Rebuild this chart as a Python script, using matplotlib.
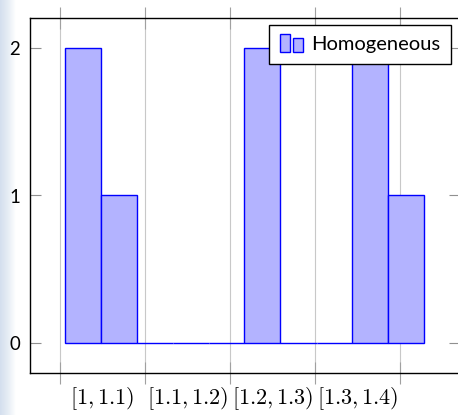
import numpy as np
import matplotlib
matplotlib.use("Agg")
import matplotlib.pyplot as plt
from matplotlib.patches import Rectangle
from matplotlib.legend_handler import HandlerBase

# histogram bins (edges) and counts
bin_edges = [1.006, 1.048, 1.090, 1.133, 1.175, 1.217, 1.259, 1.302, 1.344, 1.386, 1.428]
counts = [2, 1, 0, 0, 0, 2, 0, 0, 2, 1]
grid_ticks = [1.0, 1.1, 1.2, 1.3, 1.4]
label_pos = [1.05, 1.15, 1.25, 1.35]
interval_labels = [r"$[1, 1.1)$", r"$[1.1, 1.2)$", r"$[1.2, 1.3)$", r"$[1.3, 1.4)$"]
y_ticks = [0, 1, 2]
series_name = "Homogeneous"

plt.rcParams["font.family"] = ["Lato", "DejaVu Sans"]
plt.rcParams["mathtext.fontset"] = "cm"

fill_c = "#b3b3ff"
edge_c = "#0000ff"


class TwoBarHandler(HandlerBase):
    def create_artists(self, legend, orig_handle, xdescent, ydescent,
                       width, height, fontsize, trans):
        w = width * 0.42
        r1 = Rectangle((-xdescent, -ydescent - height * 0.15), w, height * 1.3,
                       facecolor=fill_c, edgecolor=edge_c, lw=1, transform=trans)
        r2 = Rectangle((-xdescent + width * 0.58, -ydescent - height * 0.15), w, height * 1.0,
                       facecolor=fill_c, edgecolor=edge_c, lw=1, transform=trans)
        return [r1, r2]


W, H = 458, 415
fig = plt.figure(figsize=(W / 100, H / 100), dpi=100)

# faint slide background strip at the left edge
bg = fig.add_axes([0, 0, 16 / W, 1])
grad = np.linspace(0, 1, 40)[None, :]
bg.imshow(grad, aspect="auto", cmap=matplotlib.colors.LinearSegmentedColormap.from_list(
    "bgc", ["#d4dfee", "#e6edf5", "#ffffff"]), extent=[0, 1, 0, 1])
bg.axis("off")

ax = fig.add_axes([30 / W, 42 / H, 430 / W, 355 / H])
ax.set_facecolor("white")

widths = np.diff(bin_edges)
ax.bar(bin_edges[:-1], counts, width=widths, align="edge",
       color=fill_c, edgecolor=edge_c, linewidth=1, label=series_name, zorder=3)

ax.set_xlim(0.9647, 1.4706)
ax.set_ylim(-0.2, 2.2)

ax.set_xticks(grid_ticks)
ax.set_xticklabels([])
ax.set_xticks(label_pos, minor=True)
ax.set_xticklabels(interval_labels, minor=True, fontsize=16)
ax.tick_params(axis="x", which="major", direction="inout", length=16, color="#a0a0a0",
               top=True, bottom=True, width=0.8)
ax.tick_params(axis="x", which="minor", length=0, pad=9)
ax.grid(axis="x", which="major", color="#c8c8c8", lw=0.8, zorder=0)

ax.set_yticks(y_ticks)
ax.set_yticklabels([str(v) for v in y_ticks], fontsize=13.4)
ax.tick_params(axis="y", direction="in", length=8, color="#909090", left=True,
               right=True, pad=7, width=0.8)

for s in ax.spines.values():
    s.set_linewidth(1.0)
    s.set_color("black")

ax.legend(handler_map={matplotlib.container.BarContainer: TwoBarHandler()},
          loc="upper right", bbox_to_anchor=(0.98, 0.98), fontsize=14.5,
          fancybox=False, edgecolor="black", framealpha=1, handlelength=1.15,
          handletextpad=0.4, borderpad=0.55, borderaxespad=0)
ax.get_legend().get_frame().set_linewidth(1.0)

fig.savefig("out.png", dpi=100)
